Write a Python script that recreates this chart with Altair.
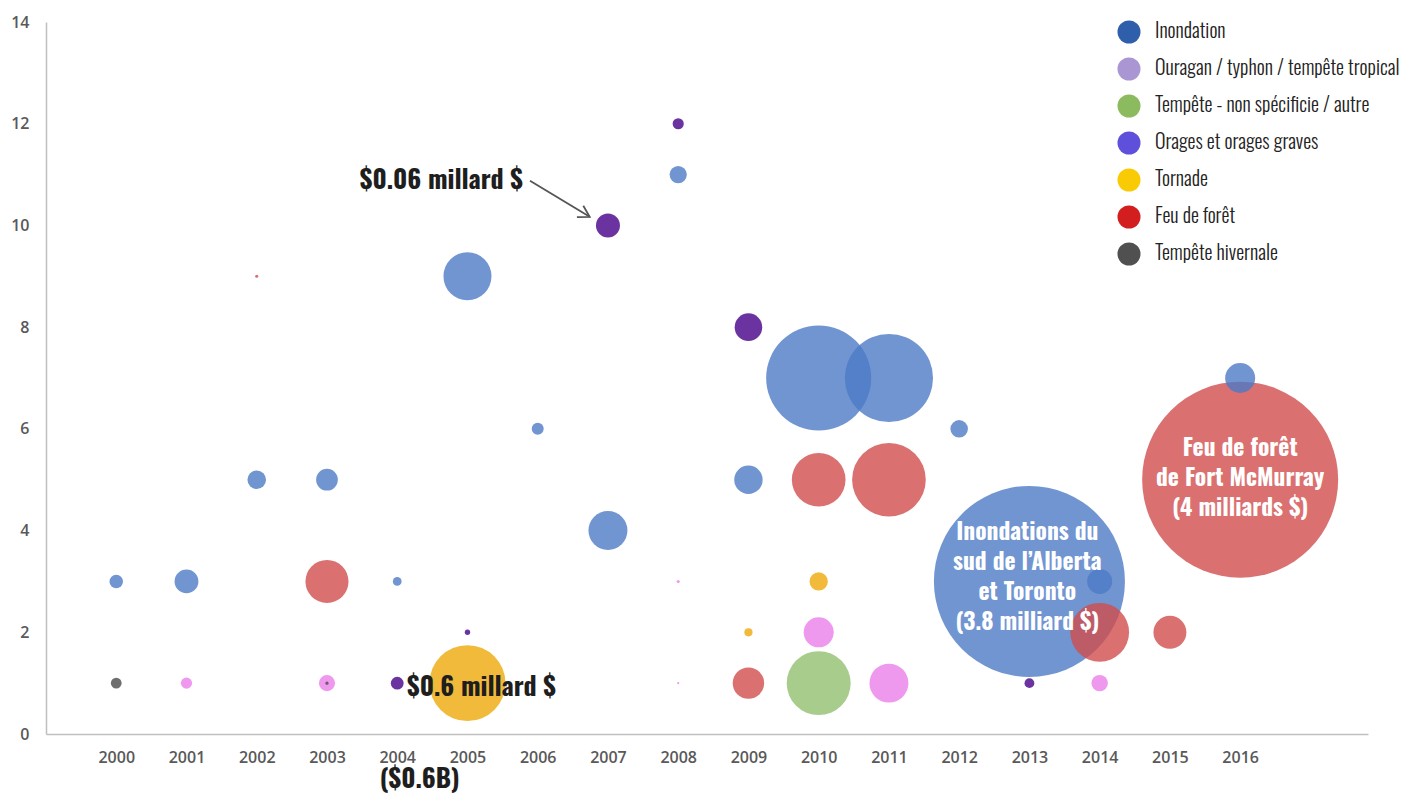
import altair as alt
import pandas as pd

# ---- categories & colours ----
types = [
    "Inondation",
    "Ouragan / typhon / tempête tropical",
    "Tempête - non spécificie / autre",
    "Orages et orages graves",
    "Tornade",
    "Feu de forêt",
    "Tempête hivernale",
]
legend_colors = ["#2F5FAA", "#AA96D2", "#8CBA5F", "#5F50DC", "#F9CB05", "#D21E1E", "#505050"]
bubble_colors = ["#4C7BC6", "#EA80EA", "#92BF6F", "#450088", "#EFA909", "#D14C4C", "#4A4A4A"]

# ---- series: year, number of events, cost (billions $) ----
flood_years = [2000, 2001, 2002, 2003, 2004, 2005, 2006, 2007, 2008, 2009, 2010, 2011, 2012, 2013, 2014, 2016]
flood_counts = [3, 3, 5, 5, 3, 9, 6, 4, 11, 5, 7, 7, 6, 3, 3, 7]
flood_costs = [0.019, 0.059, 0.036, 0.049, 0.008, 0.24, 0.015, 0.158, 0.031, 0.084, 1.15, 0.81, 0.032, 3.8, 0.065, 0.094]

hurricane_years = [2001, 2003, 2008, 2008, 2010, 2011, 2014]
hurricane_counts = [1, 1, 3, 1, 2, 1, 1]
hurricane_costs = [0.013, 0.027, 0.001, 0.0005, 0.094, 0.158, 0.028]

storm_years = [2010]
storm_counts = [1]
storm_costs = [0.426]

thunder_years = [2004, 2005, 2007, 2008, 2009, 2013]
thunder_counts = [1, 2, 10, 12, 8, 1]
thunder_costs = [0.017, 0.003, 0.06, 0.013, 0.079, 0.010]

tornado_years = [2005, 2009, 2010]
tornado_counts = [1, 2, 3]
tornado_costs = [0.6, 0.007, 0.035]

fire_years = [2002, 2003, 2009, 2010, 2011, 2014, 2015, 2016]
fire_counts = [9, 3, 1, 5, 5, 2, 2, 5]
fire_costs = [0.001, 0.193, 0.103, 0.30, 0.565, 0.36, 0.113, 4.0]

winter_years = [2000, 2003]
winter_counts = [1, 1]
winter_costs = [0.012, 0.001]

year_ticks = list(range(2000, 2017))
count_ticks = [0, 2, 4, 6, 8, 10, 12, 14]

# ---- annotations ----
ann_right_text = ["$0.06 millard $"]
ann_right_x = [2005.79]
ann_right_y = [10.87]

ann_left_text = ["$0.6 millard $"]
ann_left_x = [2004.14]
ann_left_y = [0.905]

ann_below_text = ["($0.6B)"]
ann_below_x = [2004.32]
ann_below_y = [-0.9]

ann_white_text = [
    "Inondations du\nsud de l’Alberta\net Toronto\n(3.8 milliard $)",
    "Feu de forêt\nde Fort McMurray\n(4 milliards $)",
]
ann_white_x = [2012.97, 2016.0]
ann_white_y = [3.95, 5.60]   # first line of each block

arrow_x = [2005.89]
arrow_y = [10.88]
arrow_x2 = [2006.74]
arrow_y2 = [10.17]

# ---- build table ----
rows = []
for t, ys, cs, vs in [
    (types[0], flood_years, flood_counts, flood_costs),
    (types[1], hurricane_years, hurricane_counts, hurricane_costs),
    (types[2], storm_years, storm_counts, storm_costs),
    (types[3], thunder_years, thunder_counts, thunder_costs),
    (types[4], tornado_years, tornado_counts, tornado_costs),
    (types[5], fire_years, fire_counts, fire_costs),
    (types[6], winter_years, winter_counts, winter_costs),
]:
    for y, c, v in zip(ys, cs, vs):
        rows.append({"year": y, "count": c, "type": t, "cost": v})
df = pd.DataFrame(rows)

OSW = "Oswald"
AXF = "Open Sans"

xscale = alt.Scale(domain=[1999, 2017.82], nice=False, zero=False)
yscale = alt.Scale(domain=[0, 14], nice=False, zero=True)

xaxis = alt.Axis(values=year_ticks, format="d", grid=False, ticks=False, domainColor="#BFBFBF",
                 domainWidth=1.5, labelFont=AXF, labelFontWeight=600, labelFontSize=16,
                 labelColor="#595959", labelPadding=15, title=None)
yaxis = alt.Axis(values=count_ticks, format="d", grid=False, ticks=False, domainColor="#BFBFBF",
                 domainWidth=1.5, labelFont=AXF, labelFontWeight=600, labelFontSize=16,
                 labelColor="#595959", labelPadding=17, title=None)

# bubble area proportional to cost (largest bubble = 4 billion $)
bubbles = alt.Chart(df).mark_circle(opacity=0.8).encode(
    x=alt.X("year:Q", scale=xscale, axis=xaxis, title=None),
    y=alt.Y("count:Q", scale=yscale, axis=yaxis, title=None),
    size=alt.Size("cost:Q", scale=alt.Scale(type="linear", domain=[0, 4], range=[0, 38416], zero=True), legend=None),
    fill=alt.Fill("type:N", scale=alt.Scale(domain=types[::-1], range=bubble_colors[::-1]), legend=None),
    order=alt.Order("cost:Q", sort="descending"),
)


def txt(texts, xs, ys, **kw):
    d = pd.DataFrame({"t": texts, "x": xs, "y": ys})
    return alt.Chart(d).mark_text(**kw).encode(
        x=alt.X("x:Q", title=None), y=alt.Y("y:Q", title=None), text="t:N")


dark_right = txt(ann_right_text, ann_right_x, ann_right_y, align="right", baseline="middle",
                 font=OSW, fontSize=26, fontWeight="bold", color="#1E1E1E")
dark_left = txt(ann_left_text, ann_left_x, ann_left_y, align="left", baseline="middle",
                font=OSW, fontSize=26, fontWeight="bold", color="#1E1E1E")
below = txt(ann_below_text, ann_below_x, ann_below_y, align="center", baseline="middle",
            font=OSW, fontSize=26, fontWeight="bold", color="#1E1E1E")
white = txt(ann_white_text, ann_white_x, ann_white_y, align="center", baseline="middle",
            font=OSW, fontSize=23.5, fontWeight="bold", color="white", lineBreak="\n", lineHeight=30)

arrow_df = pd.DataFrame({"x": arrow_x, "y": arrow_y, "x2": arrow_x2, "y2": arrow_y2})
arrow_line = alt.Chart(arrow_df).mark_rule(color="#555555", strokeWidth=1.8).encode(
    x=alt.X("x:Q", title=None), y=alt.Y("y:Q", title=None), x2="x2:Q", y2="y2:Q"
)
arrow_head = alt.Chart(arrow_df).mark_point(
    shape="M -1 -0.6 L 0 0 L -1 0.6", filled=False, color="#555555", strokeWidth=1.8,
    size=480, angle=29, opacity=1,
).encode(x=alt.X("x2:Q", title=None), y=alt.Y("y2:Q", title=None))

legend_df = pd.DataFrame({"type": types})
legend_layer = alt.Chart(legend_df).mark_circle().encode(
    color=alt.Color("type:N", scale=alt.Scale(domain=types, range=legend_colors),
                    legend=alt.Legend(orient="none", legendX=1071, legendY=-2, title=None,
                                      symbolType="circle", symbolSize=530, symbolOpacity=1,
                                      symbolStrokeWidth=0, labelFont=OSW, labelFontWeight=300,
                                      labelFontSize=20, labelColor="#222222", rowPadding=13,
                                      labelOffset=14, labelLimit=400, padding=0)),
).transform_filter("datum.type == 'none'")

chart = alt.layer(
    bubbles, arrow_line, arrow_head, dark_right, dark_left, below, white, legend_layer
).properties(
    width=1322, height=712,
    autosize=alt.AutoSizeParams(type="none"),
    padding={"left": 38, "top": 14, "right": 42, "bottom": 60},
    background="white",
).configure_view(stroke=None)

chart.save("out.html", embed_options={"renderer": "svg", "actions": False})
